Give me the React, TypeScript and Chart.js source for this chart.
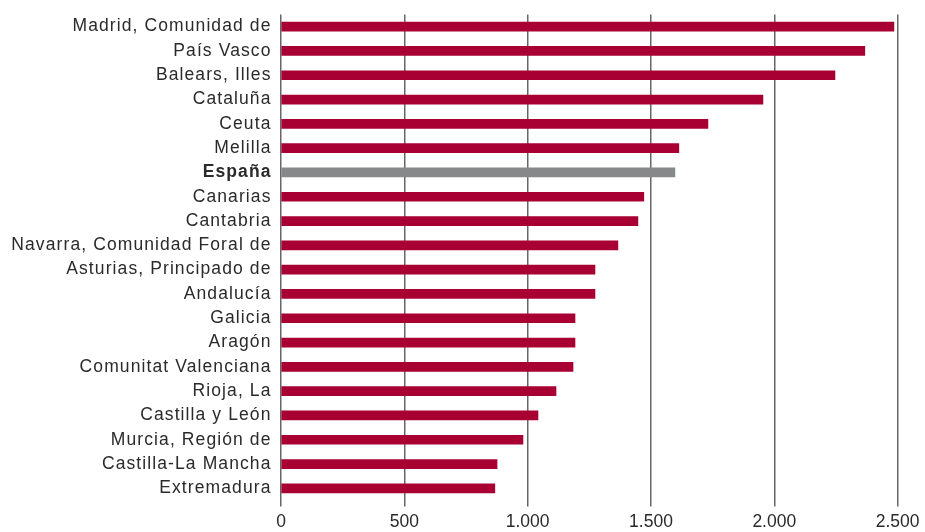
import React, { useEffect, useRef } from "react";
import { Chart, registerables } from "chart.js";

Chart.register(...registerables);

const categories = [
  "Madrid, Comunidad de",
  "País Vasco",
  "Balears, Illes",
  "Cataluña",
  "Ceuta",
  "Melilla",
  "España",
  "Canarias",
  "Cantabria",
  "Navarra, Comunidad Foral de",
  "Asturias, Principado de",
  "Andalucía",
  "Galicia",
  "Aragón",
  "Comunitat Valenciana",
  "Rioja, La",
  "Castilla y León",
  "Murcia, Región de",
  "Castilla-La Mancha",
  "Extremadura",
];

const values = [
  2485, 2367, 2246, 1954, 1731, 1613, 1597, 1471, 1447, 1366, 1273, 1273, 1192,
  1192, 1184, 1115, 1042, 981, 876, 867,
];

const highlight = "España";
const xTicks = [0, 500, 1000, 1500, 2000, 2500];

const RED = "#a80033";
const GREY = "#87888a";
const FONT = "'Liberation Sans', Arial, sans-serif";

function fmt(v: number): string {
  return String(Math.round(v)).replace(/\B(?=(\d{3})+(?!\d))/g, ".");
}

export default function App() {
  const ref = useRef<HTMLCanvasElement>(null);
  useEffect(() => {
    if (!ref.current) return;
    const chart = new Chart(ref.current, {
      type: "bar",
      data: {
        labels: categories,
        datasets: [
          {
            data: values,
            backgroundColor: categories.map((c) => (c === highlight ? GREY : RED)),
            barThickness: 9,
          },
        ],
      },
      options: {
        indexAxis: "y",
        animation: false,
        responsive: false,
        maintainAspectRatio: false,
        layout: { padding: { top: 14.5, right: 26, left: 0, bottom: 0 } },
        plugins: { legend: { display: false }, tooltip: { enabled: false } },
        scales: {
          x: {
            min: 0,
            max: 2500,
            afterBuildTicks: (scale: any) => {
              scale.ticks = xTicks.map((v) => ({ value: v }));
            },
            afterFit: (scale: any) => {
              scale.height = 31.5;
            },
            grid: {
              color: "#666",
              lineWidth: 1.5,
              drawTicks: true,
              tickLength: 6,
            },
            border: { display: false },
            ticks: {
              color: "#2a2a2a",
              padding: 5.5,
              font: { family: FONT, size: 17.5 },
              callback: (v: any) => fmt(Number(v)),
            },
          },
          y: {
            afterFit: (scale: any) => {
              scale.width = 281;
              scale.paddingTop = 0;
              scale.paddingBottom = 0;
              if (!scale._lsPatched) {
                scale._lsPatched = true;
                const orig = scale.drawLabels;
                scale.drawLabels = function (area: any) {
                  const ctx = this.ctx;
                  ctx.save();
                  (ctx as any).letterSpacing = "1.1px";
                  orig.call(this, area);
                  ctx.restore();
                };
              }
            },
            grid: { display: false, drawTicks: false },
            border: { display: false },
            ticks: {
              color: "#2a2a2a",
              padding: 9.5,
              font: (ctx: any) => ({
                family: FONT,
                size: 17.5,
                weight: categories[ctx.index] === highlight ? "bold" : "normal",
              }),
            },
          },
        },
      },
    });
    return () => chart.destroy();
  }, []);
  return (
    <div style={{ position: "fixed", left: 0, top: 0, width: 925, height: 532, background: "#fff" }}>
      <canvas ref={ref} width={925} height={532} />
    </div>
  );
}
